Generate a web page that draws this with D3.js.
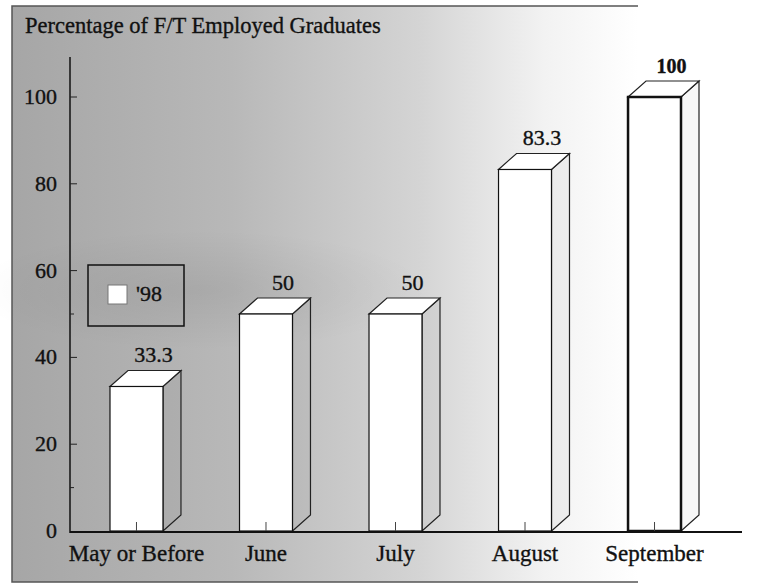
<!DOCTYPE html>
<html>
<head>
<meta charset="utf-8">
<script src="https://cdn.jsdelivr.net/npm/d3@7"></script>
<style>
  body { margin: 0; background: #fff; }
  svg text { font-family: "Liberation Serif", "DejaVu Serif", serif; fill: #111; stroke: #111; stroke-width: 0.35; }
</style>
</head>
<body>
<svg id="chart" width="778" height="583"></svg>
<script>
// data
const months = ["May or Before", "June", "July", "August", "September"];
const pct = [33.3, 50, 50, 83.3, 100];
const pctLabels = ["33.3", "50", "50", "83.3", "100"];
const yMajor = [0, 20, 40, 60, 80, 100];
const yMinor = [10, 50];
const legendLabel = "'98";
const title = "Percentage of F/T Employed Graduates";

const svg = d3.select("#chart");
const defs = svg.append("defs");

const grad = defs.append("linearGradient").attr("id", "bg").attr("x1", 0).attr("x2", 1).attr("y1", 0).attr("y2", 0);
grad.append("stop").attr("offset", "0%").attr("stop-color", "#a6a6a6");
grad.append("stop").attr("offset", "35%").attr("stop-color", "#b8b8b8");
grad.append("stop").attr("offset", "65%").attr("stop-color", "#d4d4d4");
grad.append("stop").attr("offset", "85%").attr("stop-color", "#f2f2f2");
grad.append("stop").attr("offset", "100%").attr("stop-color", "#ffffff");

const shade = defs.append("radialGradient").attr("id", "shade");
shade.append("stop").attr("offset", "0%").attr("stop-color", "#000").attr("stop-opacity", 0.07);
shade.append("stop").attr("offset", "100%").attr("stop-color", "#000").attr("stop-opacity", 0);

// scanned panel
const panel = {x0: 12, y0: 6, x1: 638, y1: 582};
svg.append("rect")
  .attr("x", panel.x0).attr("y", panel.y0)
  .attr("width", panel.x1 - panel.x0).attr("height", panel.y1 - panel.y0)
  .attr("fill", "url(#bg)");
svg.append("ellipse")
  .attr("cx", 200).attr("cy", 290).attr("rx", 230).attr("ry", 60)
  .attr("fill", "url(#shade)");
svg.append("path")
  .attr("d", `M${panel.x1},${panel.y0}H${panel.x0}V${panel.y1}H${panel.x1}`)
  .attr("fill", "none").attr("stroke", "#555").attr("stroke-width", 1.5);

svg.append("text")
  .attr("x", 25).attr("y", 33)
  .attr("font-size", 22.5)
  .text(title);

const y = d3.scaleLinear().domain([0, 100]).range([531, 97]);
const x = d3.scaleBand().domain(months).range([110, 681]).paddingInner(0.591).paddingOuter(0);
const dx = 18, dy = -16;

// y axis
const axisX = 70;
svg.append("line")
  .attr("x1", axisX).attr("x2", axisX).attr("y1", 57).attr("y2", 533)
  .attr("stroke", "#111").attr("stroke-width", 1.5);
svg.selectAll(".ymaj").data(yMajor.filter(d => d > 0)).join("line")
  .attr("x1", axisX).attr("x2", axisX + 7)
  .attr("y1", d => y(d)).attr("y2", d => y(d))
  .attr("stroke", "#222");
svg.selectAll(".ymin").data(yMinor).join("line")
  .attr("x1", axisX).attr("x2", axisX + 4)
  .attr("y1", d => y(d)).attr("y2", d => y(d))
  .attr("stroke", "#222");
svg.selectAll(".ylab").data(yMajor).join("text")
  .attr("x", 57).attr("y", d => y(d) + 7)
  .attr("text-anchor", "end").attr("font-size", 22)
  .text(d => d);

// bars
const bars = svg.append("g");
months.forEach((m, i) => {
  const x0 = x(m), w = x.bandwidth(), x1 = x0 + w;
  const yt = y(pct[i]), yb = y(0);
  const g = bars.append("g");
  const heavy = i === months.length - 1;
  // side face
  g.append("path")
    .attr("d", `M${x1},${yb}L${x1 + dx},${yb + dy}L${x1 + dx},${yt + dy}L${x1},${yt}Z`)
    .attr("fill", "rgba(0,0,0,0.03)").attr("stroke", "#222").attr("stroke-width", 1.2);
  // top face
  g.append("path")
    .attr("d", `M${x0},${yt}L${x0 + dx},${yt + dy}L${x1 + dx},${yt + dy}L${x1},${yt}Z`)
    .attr("fill", "#fff").attr("stroke", "#222").attr("stroke-width", 1.2);
  // front face
  g.append("rect")
    .attr("x", x0).attr("y", yt).attr("width", w).attr("height", yb - yt)
    .attr("fill", "#fff").attr("stroke", "#111").attr("stroke-width", heavy ? 2.5 : 1.2);
  // value label
  g.append("text")
    .attr("x", x0 + w / 2 + 17).attr("y", yt + dy - 8)
    .attr("text-anchor", "middle").attr("font-size", heavy ? 20 : 22)
    .attr("font-weight", heavy ? "bold" : "normal")
    .text(pctLabels[i]);
});

// x axis
svg.append("line")
  .attr("x1", axisX).attr("x2", 742).attr("y1", 532).attr("y2", 532)
  .attr("stroke", "#111").attr("stroke-width", 2);
svg.selectAll(".xtick").data(months).join("line")
  .attr("x1", d => x(d) + x.bandwidth() / 2).attr("x2", d => x(d) + x.bandwidth() / 2)
  .attr("y1", 531).attr("y2", 522)
  .attr("stroke", "#444");
svg.selectAll(".xlab").data(months).join("text")
  .attr("x", d => x(d) + x.bandwidth() / 2).attr("y", 561)
  .attr("text-anchor", "middle").attr("font-size", 23)
  .text(d => d);

// legend
svg.append("rect")
  .attr("x", 88).attr("y", 265).attr("width", 96).attr("height", 61)
  .attr("fill", "none").attr("stroke", "#111").attr("stroke-width", 1.5);
svg.append("rect")
  .attr("x", 108).attr("y", 285).attr("width", 19).attr("height", 19)
  .attr("fill", "#fff").attr("stroke", "#777");
svg.append("text")
  .attr("x", 136).attr("y", 301).attr("font-size", 22)
  .text(legendLabel);
</script>
</body>
</html>
